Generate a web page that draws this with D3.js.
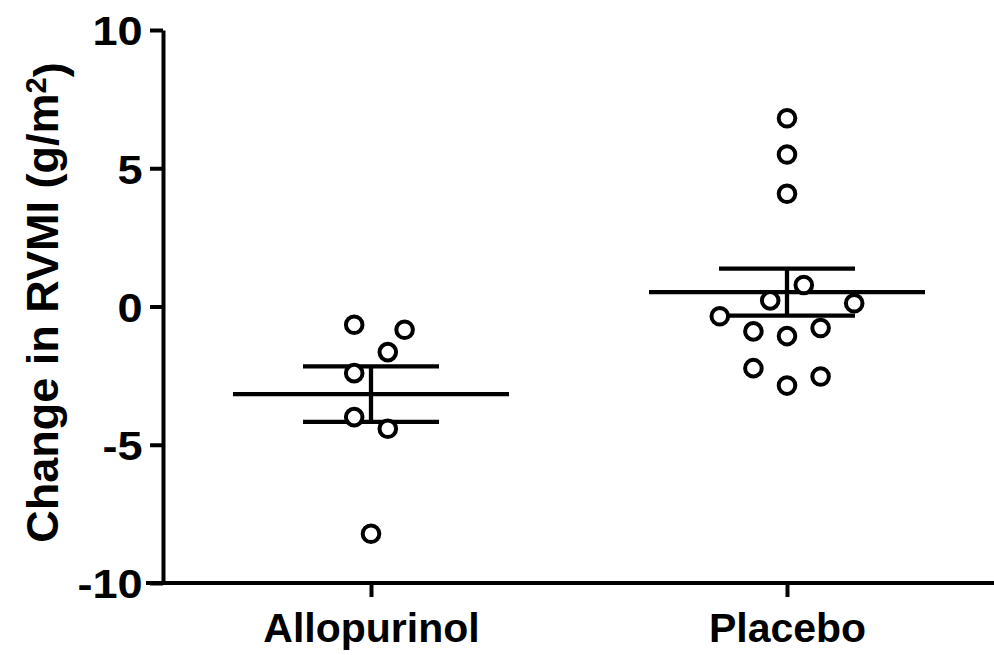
<!DOCTYPE html>
<html>
<head>
<meta charset="utf-8">
<script src="https://d3js.org/d3.v7.min.js"></script>
<style>
  body { margin: 0; background: #fff; }
  svg text { font-family: "Liberation Sans", Arial, sans-serif; font-weight: bold; fill: #000; }
</style>
</head>
<body>
<div id="chart"></div>
<script>
// groups and values
var groups = ['Allopurinol', 'Placebo'];
var allopurinolValues = [-0.66, -0.84, -1.65, -2.41, -4.0, -4.42, -8.22];
var placeboValues = [6.81, 5.50, 4.08, 0.78, 0.22, 0.12, -0.35, -0.90, -1.07, -0.78, -2.23, -2.86, -2.53];
// horizontal scatter column of each point (as laid out in the figure)
var allopurinolColumns = [-1, 2, 1, -1, -1, 1, 0];
var placeboColumns = [0, 0, 0, 1, -1, 4, -4, -2, 0, 2, -2, 0, 2];
var yTicks = [-10, -5, 0, 5, 10];

var width = 994, height = 655;
var margin = {top: 30, left: 163, bottom: 72};

var svg = d3.select('#chart').append('svg')
  .attr('width', width)
  .attr('height', height);

var x = d3.scalePoint().domain(groups).range([margin.left, width + 1]).padding(0.5);
var y = d3.scaleLinear().domain([-10, 10]).range([height - margin.bottom, margin.top]);
var col = d3.scaleLinear().domain([0, 1]).range([0, 16.8]);

var data = [
  {group: 'Allopurinol', values: allopurinolValues, cols: allopurinolColumns},
  {group: 'Placebo', values: placeboValues, cols: placeboColumns}
];

// y axis
var yAxis = svg.append('g')
  .attr('transform', 'translate(' + margin.left + ',0)')
  .call(d3.axisLeft(y).tickValues(yTicks).tickFormat(String).tickSize(13).tickSizeOuter(0).tickPadding(4));
yAxis.selectAll('text')
  .style('font-size', '41px')
  .attr('dy', '0.36em')
  .attr('transform', function() { return 'translate(' + (+d3.select(this).attr('x')) * 0.1 + ',0) scale(1.1,1)'; });

// x axis
var xAxis = svg.append('g')
  .attr('transform', 'translate(0,' + y(-10) + ')')
  .call(d3.axisBottom(x).tickSize(14).tickSizeOuter(0).tickPadding(16));
xAxis.select('.domain').attr('d', 'M' + (margin.left - 17) + ',0H' + (width + 1));
xAxis.selectAll('text').style('font-size', '41px');

svg.selectAll('.domain, .tick line')
  .attr('stroke', '#000')
  .attr('stroke-width', 4);

// y title
svg.append('text')
  .attr('transform', 'translate(58,' + ((y(10) + y(-10)) / 2 - 4) + ') rotate(-90)')
  .attr('text-anchor', 'middle')
  .style('font-size', '45px')
  .text('Change in RVMI (g/m')
  .call(function(t) {
    t.append('tspan').attr('dy', '-0.42em').style('font-size', '29px').text('2');
    t.append('tspan').attr('dy', '0.42em').text(')');
  });

// mean and SEM
var summary = svg.append('g');
data.forEach(function(d) {
  var cx = x(d.group);
  var m = d3.mean(d.values);
  var sem = d3.deviation(d.values) / Math.sqrt(d.values.length);
  summary.append('line').attr('x1', cx - 138).attr('x2', cx + 138).attr('y1', y(m)).attr('y2', y(m));
  summary.append('line').attr('x1', cx - 68).attr('x2', cx + 68).attr('y1', y(m + sem)).attr('y2', y(m + sem));
  summary.append('line').attr('x1', cx - 68).attr('x2', cx + 68).attr('y1', y(m - sem)).attr('y2', y(m - sem));
  summary.append('line').attr('x1', cx).attr('x2', cx).attr('y1', y(m + sem)).attr('y2', y(m - sem));
});
summary.selectAll('line').attr('stroke', '#000').attr('stroke-width', 4.3);

// points
data.forEach(function(d) {
  svg.append('g').selectAll('circle')
    .data(d.values)
    .enter().append('circle')
      .attr('cx', function(v, i) { return x(d.group) + col(d.cols[i]); })
      .attr('cy', function(v) { return y(v); })
      .attr('r', 8.3)
      .attr('fill', '#fff')
      .attr('stroke', '#000')
      .attr('stroke-width', 4);
});
</script>
</body>
</html>
